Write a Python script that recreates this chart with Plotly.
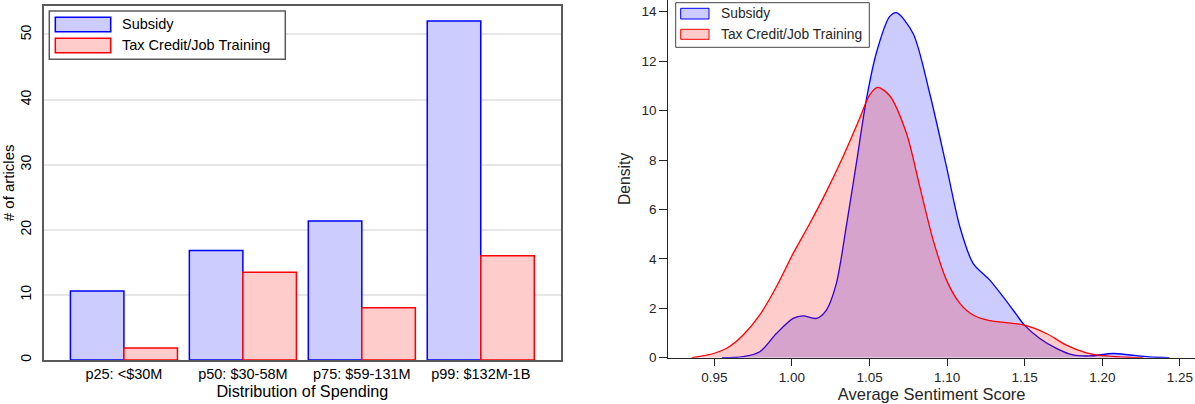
import plotly.graph_objects as go

# ---------------- data ----------------
categories = ["p25: <$30M", "p50: $30-58M", "p75: $59-131M", "p99: $132M-1B"]
subsidy_counts = [10.6, 16.8, 21.35, 52.07]
tax_counts = [1.86, 13.46, 8.03, 16.02]

subsidy_x = [0.955, 0.9686, 0.9793, 0.990, 1.0008, 1.0072, 1.0158, 1.0222, 1.0286,
             1.035, 1.0415, 1.0479, 1.0543, 1.0629, 1.0674, 1.0781, 1.0888, 1.0996,
             1.1082, 1.1167, 1.1275, 1.136, 1.1425, 1.1498, 1.1597, 1.1704, 1.1811,
             1.1918, 1.2069, 1.2176, 1.230, 1.2432]
subsidy_y = [0.0, 0.04, 0.24, 0.98, 1.59, 1.69, 1.59, 1.93, 3.0,
             5.3, 7.86, 10.42, 12.31, 13.8, 13.96, 13.12, 10.69, 7.73,
             5.3, 3.82, 3.14, 2.47, 1.93, 1.32, 0.78, 0.38, 0.11,
             0.07, 0.17, 0.11, 0.03, 0.0]

tax_x = [0.9354, 0.945, 0.950, 0.958, 0.9686, 0.9793, 0.990, 1.0008, 1.0115,
         1.0222, 1.0329, 1.0436, 1.050, 1.0554, 1.063, 1.0738, 1.0824, 1.091,
         1.0996, 1.1082, 1.1167, 1.1275, 1.1382, 1.1498, 1.164, 1.1768, 1.1897,
         1.2026, 1.2176, 1.226]
tax_y = [0.0, 0.10, 0.18, 0.38, 0.92, 1.73, 2.87, 4.22, 5.43,
         6.72, 8.13, 9.68, 10.63, 10.94, 10.6, 9.08, 6.92, 4.76,
         3.14, 2.2, 1.73, 1.5, 1.42, 1.32, 0.98, 0.51, 0.2,
         0.07, 0.01, 0.0]

series_names = ["Subsidy", "Tax Credit/Job Training"]

# ---------------- style ----------------
W, H = 1195, 404
FONT = "Liberation Sans, Arial, sans-serif"
BLUE, RED = "#0000ff", "#ff0000"
BLUE_FILL, RED_FILL = "#ccccff", "#ffcccc"
BLUE_A, RED_A = "rgba(0,0,255,0.2)", "rgba(255,0,0,0.2)"


def fx(p):
    return p / W


def fy(p):
    return 1 - p / H


fig = go.Figure()

# left: grouped bars
fig.add_trace(go.Bar(x=categories, y=subsidy_counts, name=series_names[0],
                     marker=dict(color=BLUE_FILL, line=dict(color=BLUE, width=1.5)),
                     xaxis="x", yaxis="y", showlegend=False))
fig.add_trace(go.Bar(x=categories, y=tax_counts, name=series_names[1],
                     marker=dict(color=RED_FILL, line=dict(color=RED, width=1.5)),
                     xaxis="x", yaxis="y", showlegend=False))

# right: densities
fig.add_trace(go.Scatter(x=subsidy_x, y=subsidy_y, mode="lines", name=series_names[0],
                         line=dict(color=BLUE, width=1.3, shape="spline", smoothing=0.8),
                         fill="tozeroy", fillcolor=BLUE_A,
                         xaxis="x2", yaxis="y2", showlegend=False))
fig.add_trace(go.Scatter(x=tax_x, y=tax_y, mode="lines", name=series_names[1],
                         line=dict(color=RED, width=1.3, shape="spline", smoothing=0.8),
                         fill="tozeroy", fillcolor=RED_A,
                         xaxis="x2", yaxis="y2", showlegend=False))

left_dom_x = [fx(44), fx(560.7)]
left_dom_y = [fy(360), fy(5.7)]
right_dom_x = [fx(668.3), 1.0]
right_dom_y = [fy(357.7), 1.0]

fig.update_layout(
    width=W, height=H, autosize=False,
    margin=dict(l=0, r=0, t=0, b=0),
    paper_bgcolor="white", plot_bgcolor="white",
    font=dict(family=FONT, color="black"),
    barmode="group", bargap=0.1, bargroupgap=0,
    xaxis=dict(domain=left_dom_x, anchor="y", type="category",
               range=[-0.672, 3.672], showline=True, mirror=True,
               linecolor="#5a5a5a", linewidth=1.5, showgrid=False, ticks="",
               tickfont=dict(size=14.5, color="black"), automargin=False,
               title=dict(text="Distribution of Spending", font=dict(size=16.2), standoff=2)),
    yaxis=dict(domain=left_dom_y, anchor="x", range=[0, 54.42],
               tickvals=[0, 10, 20, 30, 40, 50], tickangle=-90,
               showline=True, mirror=True, linecolor="#5a5a5a", linewidth=1.5,
               showgrid=True, gridcolor="#e6e6e6", gridwidth=1.5, zeroline=False,
               ticks="", ticklabelstandoff=6,
               tickfont=dict(size=14, color="black"), automargin=False,
               title=dict(text="# of articles", font=dict(size=15), standoff=3)),
    xaxis2=dict(domain=right_dom_x, anchor="y2", range=[0.92036, 1.2597],
                tickvals=[0.95, 1.0, 1.05, 1.1, 1.15, 1.2, 1.25], tickformat=".2f",
                showline=True, linecolor="#262626", linewidth=1.2, showgrid=False,
                zeroline=False, ticks="outside", ticklen=7, tickwidth=1.2,
                tickcolor="#262626", tickfont=dict(size=13.5, color="#262626"),
                automargin=False,
                title=dict(text="Average Sentiment Score",
                           font=dict(size=16.5, color="#262626"), standoff=4)),
    yaxis2=dict(domain=right_dom_y, anchor="x2", range=[0, 14.475],
                tickvals=[0, 2, 4, 6, 8, 10, 12, 14],
                showline=True, linecolor="#262626", linewidth=1.2, showgrid=False,
                zeroline=False, ticks="outside", ticklen=8, tickwidth=1.2,
                tickcolor="#262626", tickfont=dict(size=13.5, color="#262626"),
                automargin=False,
                title=dict(text="Density", font=dict(size=15.7, color="#262626"), standoff=6)),
)

# ---------------- legends (drawn as shapes + text) ----------------
shapes = []
annotations = []

# left legend
shapes.append(dict(type="rect", xref="paper", yref="paper",
                   x0=fx(49.3), x1=fx(285.3), y0=fy(59.3), y1=fy(11),
                   line=dict(color="#5a5a5a", width=1.5), fillcolor="white", layer="above"))
left_rows = [(17.3, 31.7, BLUE_FILL, BLUE), (38.3, 52.7, RED_FILL, RED)]
for (t, b, fc, lc), name in zip(left_rows, series_names):
    shapes.append(dict(type="rect", xref="paper", yref="paper",
                       x0=fx(55.3), x1=fx(110.7), y0=fy(b), y1=fy(t),
                       line=dict(color=lc, width=1.5), fillcolor=fc, layer="above"))
    annotations.append(dict(xref="paper", yref="paper", x=fx(119.5), y=fy((t + b) / 2),
                            text=name, showarrow=False, xanchor="left", yanchor="middle",
                            font=dict(size=14.5, color="black", family=FONT)))

# right legend
shapes.append(dict(type="rect", xref="paper", yref="paper",
                   x0=fx(675.7), x1=fx(869.3), y0=fy(47.3), y1=fy(2.7),
                   line=dict(color="#444444", width=1), fillcolor="white", layer="above"))
right_rows = [(8.3, 19, BLUE_A, BLUE), (29.3, 39.3, RED_A, RED)]
for (t, b, fc, lc), name in zip(right_rows, series_names):
    shapes.append(dict(type="rect", xref="paper", yref="paper",
                       x0=fx(680.7), x1=fx(709), y0=fy(b), y1=fy(t),
                       line=dict(color=lc, width=1), fillcolor=fc, layer="above"))
    annotations.append(dict(xref="paper", yref="paper", x=fx(719), y=fy((t + b) / 2),
                            text=name, showarrow=False, xanchor="left", yanchor="middle",
                            font=dict(size=13.8, color="#262626", family=FONT)))

fig.update_layout(shapes=shapes, annotations=annotations)

fig.write_html("out.html",
               config={"displayModeBar": False},
               post_script="document.body.style.margin='0';document.body.style.overflow='hidden';")
